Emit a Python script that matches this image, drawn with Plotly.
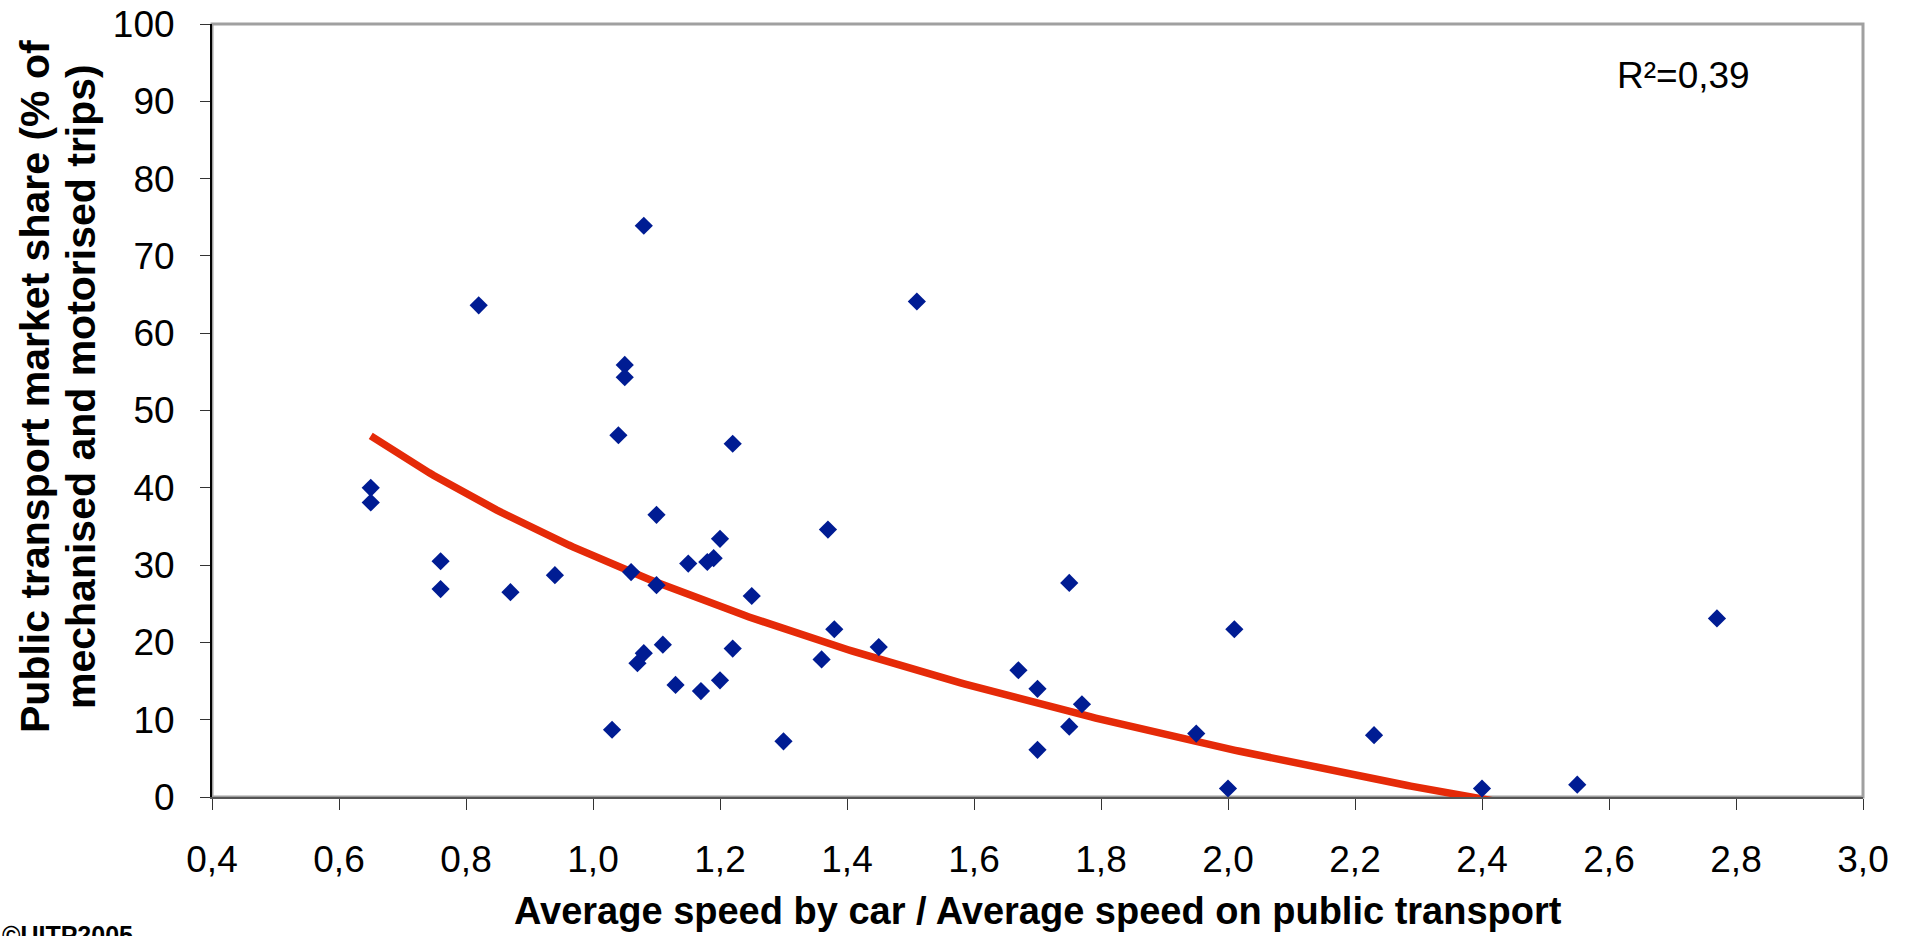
import numpy as np
import plotly.graph_objects as go

# Ratio of average car speed to average public transport speed, per city
speed_ratio = [
    0.65, 0.65, 0.76, 0.76, 0.82, 0.87, 0.94, 1.03, 1.04, 1.05,
    1.05, 1.06, 1.07, 1.08, 1.08, 1.10, 1.10, 1.11, 1.13, 1.15,
    1.17, 1.18, 1.19, 1.20, 1.20, 1.22, 1.22, 1.25, 1.30, 1.36,
    1.37, 1.38, 1.45, 1.51, 1.67, 1.70, 1.70, 1.75, 1.75, 1.77,
    1.95, 2.00, 2.01, 2.23, 2.40, 2.55, 2.77,
]
# Public transport share of mechanised and motorised trips (%)
pt_share = [
    40.0, 38.1, 30.5, 26.9, 63.6, 26.5, 28.7, 8.7, 46.8, 55.9,
    54.3, 29.1, 17.3, 18.6, 73.9, 36.5, 27.4, 19.7, 14.5, 30.2,
    13.7, 30.4, 30.9, 33.4, 15.1, 45.7, 19.2, 26.0, 7.2, 17.8,
    34.6, 21.7, 19.4, 64.1, 16.4, 14.0, 6.1, 27.7, 9.1, 12.0,
    8.2, 1.1, 21.7, 8.0, 1.1, 1.6, 23.1,
]

# Logarithmic trend: share = slope * ln(ratio) + intercept
TREND_SLOPE = -36.0
TREND_INTERCEPT = 31.2
R_SQUARED = "0,39"

x_ticks = [0.4, 0.6, 0.8, 1.0, 1.2, 1.4, 1.6, 1.8, 2.0, 2.2, 2.4, 2.6, 2.8, 3.0]
y_ticks = [0, 10, 20, 30, 40, 50, 60, 70, 80, 90, 100]

y_title_lines = [
    "Public transport market share (% of",
    "mechanised and motorised trips)",
]
x_title = "Average speed by car / Average speed on public transport"

W, H = 1910, 936
L, R, T, B = 212, 47, 24, 139
PW, PH = W - L - R, H - T - B


def px_x(p):
    return (p - L) / PW


def px_y(p):
    return (H - B - p) / PH


trend_x = np.linspace(min(speed_ratio), max(speed_ratio), 300)
trend_y = TREND_SLOPE * np.log(trend_x) + TREND_INTERCEPT

fig = go.Figure()
fig.add_trace(go.Scatter(
    x=trend_x, y=trend_y, mode="lines",
    line=dict(color="#E52A08", width=7.5),
    showlegend=False, hoverinfo="skip",
))
fig.add_trace(go.Scatter(
    x=speed_ratio, y=pt_share, mode="markers",
    marker=dict(symbol="diamond", size=14, color="#001C93",
                line=dict(width=0)),
    cliponaxis=False, showlegend=False, hoverinfo="x+y",
))

font_family = "Liberation Sans, Arial, sans-serif"

annotations = []
# two-line rotated axis title, one annotation per line for tight spacing
for line, cx in zip(y_title_lines, [35, 81]):
    annotations.append(dict(
        text="<b>" + line + "</b>",
        xref="paper", yref="paper", x=px_x(cx), y=px_y(387),
        xanchor="center", yanchor="middle", textangle=-90,
        showarrow=False, font=dict(size=41, family=font_family),
    ))
annotations += [
    dict(
        text="<b>" + x_title + "</b>",
        xref="paper", yref="paper", x=0.5, y=px_y(911),
        xanchor="center", yanchor="middle", showarrow=False,
        font=dict(size=38, family=font_family),
    ),
    dict(
        text="R²=" + R_SQUARED,
        xref="paper", yref="paper", x=px_x(1615), y=px_y(75),
        xanchor="left", yanchor="middle", showarrow=False,
        font=dict(size=37, family=font_family),
    ),
    dict(
        text="<b>©UITP2005</b>",
        xref="paper", yref="paper", x=px_x(0), y=px_y(919),
        xanchor="left", yanchor="top", showarrow=False,
        font=dict(size=25, family=font_family),
    ),
]

fig.update_layout(
    width=W, height=H,
    margin=dict(l=L, r=R, t=T, b=B, pad=0),
    paper_bgcolor="white", plot_bgcolor="white",
    separators=",.",
    font=dict(family=font_family, size=37, color="black"),
    xaxis=dict(
        range=[0.4, 3.0], tickvals=x_ticks, tickformat=".1f",
        automargin=False,
        showgrid=False, zeroline=False,
        showline=True, linecolor="#555555", linewidth=2,
        ticks="outside", ticklen=11, tickwidth=1, tickcolor="#333333",
        ticklabelstandoff=18,
        tickfont=dict(size=37),
    ),
    yaxis=dict(
        range=[0, 100], tickvals=y_ticks,
        automargin=False,
        showgrid=False, zeroline=False,
        showline=True, linecolor="black", linewidth=2,
        ticks="outside", ticklen=10, tickwidth=1, tickcolor="#333333",
        ticklabelstandoff=18,
        tickfont=dict(size=37),
    ),
    shapes=[dict(
        type="rect", xref="paper", yref="paper", x0=0, y0=0, x1=1, y1=1,
        line=dict(color="#A0A0A0", width=3), layer="below",
    )],
    annotations=annotations,
)

fig.write_html("out.html")
